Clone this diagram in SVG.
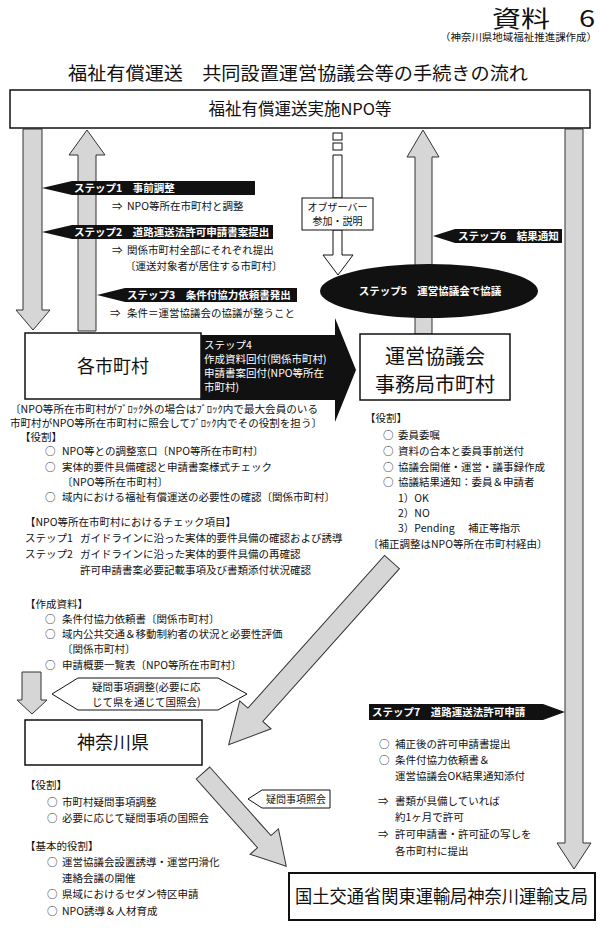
<svg xmlns="http://www.w3.org/2000/svg" width="600" height="928" viewBox="0 0 600 928">
<style>
text{font-family:"Noto Sans CJK JP","Noto Sans CJK SC",sans-serif;fill:#111}
.t{font-size:10.5px}
.lbl{font-size:10.5px;fill:#fff;font-weight:bold}
.lbn{font-size:10.5px;fill:#fff;font-weight:normal}
.box{fill:#fff;stroke:#111;stroke-width:1.5}
.gray{fill:#d6d6d6;stroke:#333;stroke-width:1}
.wht{fill:#fff;stroke:#111;stroke-width:1}
.blk{fill:#111;stroke:none}
.big{font-size:18px}
.mid{text-anchor:middle}
</style>
<rect width="600" height="928" fill="#fff"/>

<g id="header">
<text x="492" y="27" font-size="23" textLength="103" lengthAdjust="spacingAndGlyphs">資料　6</text>
<text x="440" y="41" font-size="10" textLength="157" lengthAdjust="spacingAndGlyphs">（神奈川県地域福祉推進課作成）</text>
<text x="68" y="80" font-size="18.5" textLength="460" lengthAdjust="spacingAndGlyphs">福祉有償運送　共同設置運営協議会等の手続きの流れ</text>
</g>

<g id="connectors">
<polygon class="gray" points="23,129 42,129 42,310 50,310 33,330 16,310 23,310"/>
<polygon class="gray" points="87,130 105,155 96,155 96,331 78,331 78,155 69,155"/>
<polygon class="gray" points="423,130 439,157 432,157 432,334 415,334 415,157 407,157"/>
<polygon class="gray" points="565,129 583,129 583,843 591,843 574,869 557,843 565,843"/>
<g id="observer-arrow">
<rect class="wht" x="333" y="133" width="9" height="7"/>
<rect class="wht" x="333" y="143" width="9" height="7"/>
<polygon class="wht" points="333,155 342,155 342,198 333,198"/>
<polygon class="wht" points="333,230 342,230 342,255 353,255 338,275 323,255 333,255"/>
</g>
<polygon class="blk" points="200,335 335,335 335,318 356,370 335,422 335,400 200,400"/>
<polygon class="gray" points="22,672 41,672 41,700 47,700 32,714 17,700 22,700"/>
<polygon class="gray" transform="translate(392,562) rotate(131.8)" points="0,-10 205,-10 205,-21 245,0 205,21 205,10 0,10"/>
<polygon class="gray" transform="translate(203,773) rotate(48.25)" points="0,-9 92,-9 92,-19 125,0 92,19 92,9 0,9"/>
</g>

<g id="npo">
<rect class="box" x="10" y="90" width="580" height="38"/>
<text x="300" y="115" font-size="16.5" class="mid">福祉有償運送実施NPO等</text>
</g>

<g id="step1">
<polygon class="blk" points="42,188 72,181 255,181 255,195 72,195"/>
<text class="lbl" x="74" y="192">ステップ1　事前調整</text>
<text class="t" x="112" y="210">⇒</text><text class="t" x="127" y="210">NPO等所在市町村と調整</text>
</g>
<g id="step2">
<polygon class="blk" points="42,232 72,225 273,225 273,239 72,239"/>
<text class="lbl" x="74" y="236">ステップ2　道路運送法許可申請書案提出</text>
<text class="t" x="112" y="254">⇒</text><text class="t" x="127" y="254">関係市町村全部にそれぞれ提出</text>
<text class="t" x="125" y="270">〔運送対象者が居住する市町村〕</text>
</g>
<g id="step3">
<polygon class="blk" points="97,295 125,288 297,288 297,302 125,302"/>
<text class="lbl" x="127" y="299">ステップ3　条件付協力依頼書発出</text>
<text class="t" x="110" y="317">⇒</text><text class="t" x="127" y="317">条件＝運営協議会の協議が整うこと</text>
</g>

<g id="observer">
<rect class="wht" x="302" y="198" width="71" height="32"/>
<text class="mid" x="337.5" y="211" font-size="10">オブザーバー</text>
<text class="mid" x="337.5" y="225" font-size="10">参加・説明</text>
</g>

<g id="step6">
<polygon class="blk" points="433,236 455,229 562,229 562,243 455,243"/>
<text class="lbl" x="458" y="240">ステップ6　結果通知</text>
</g>

<g id="step5">
<ellipse cx="429" cy="291" rx="109" ry="27" fill="#111"/>
<text class="lbl mid" x="430" y="295">ステップ5　運営協議会で協議</text>
</g>

<g id="municipalities">
<rect class="box" x="25" y="333" width="176" height="66"/>
<text class="big mid" x="113" y="373">各市町村</text>
</g>

<g id="step4">
<text class="lbn" x="204" y="349">ステップ4</text>
<text class="lbn" x="204" y="363">作成資料回付(関係市町村)</text>
<text class="lbn" x="204" y="377">申請書案回付(NPO等所在</text>
<text class="lbn" x="204" y="391">市町村)</text>
</g>

<g id="council">
<rect class="box" x="360" y="334" width="150" height="66"/>
<text class="mid" x="435" y="364" font-size="20">運営協議会</text>
<text class="mid" x="435" y="392" font-size="20">事務局市町村</text>
</g>

<g id="municipal-notes">
<text class="t" x="10" y="413" textLength="308" lengthAdjust="spacingAndGlyphs">〔NPO等所在市町村がﾌﾞﾛｯｸ外の場合はﾌﾞﾛｯｸ内で最大会員のいる</text>
<text class="t" x="10" y="427" textLength="312" lengthAdjust="spacingAndGlyphs">市町村がNPO等所在市町村に照会してﾌﾞﾛｯｸ内でその役割を担う〕</text>
<text class="t" x="20" y="441">【役割】</text>
<text class="t" x="45" y="455">○</text><text class="t" x="62" y="455">NPO等との調整窓口〔NPO等所在市町村〕</text>
<text class="t" x="45" y="471">○</text><text class="t" x="62" y="471">実体的要件具備確認と申請書案様式チェック</text>
<text class="t" x="62" y="486">〔NPO等所在市町村〕</text>
<text class="t" x="45" y="501">○</text><text class="t" x="62" y="501">域内における福祉有償運送の必要性の確認〔関係市町村〕</text>
<text class="t" x="25" y="526">【NPO等所在市町村におけるチェック項目】</text>
<text class="t" x="25" y="542">ステップ1</text><text class="t" x="80" y="542">ガイドラインに沿った実体的要件具備の確認および誘導</text>
<text class="t" x="25" y="558">ステップ2</text><text class="t" x="80" y="558">ガイドラインに沿った実体的要件具備の再確認</text>
<text class="t" x="80" y="574">許可申請書案必要記載事項及び書類添付状況確認</text>
<text class="t" x="25" y="608">【作成資料】</text>
<text class="t" x="45" y="623">○</text><text class="t" x="62" y="623">条件付協力依頼書〔関係市町村〕</text>
<text class="t" x="45" y="638">○</text><text class="t" x="62" y="638">域内公共交通＆移動制約者の状況と必要性評価</text>
<text class="t" x="62" y="653">〔関係市町村〕</text>
<text class="t" x="45" y="669">○</text><text class="t" x="62" y="669">申請概要一覧表〔NPO等所在市町村〕</text>
</g>

<g id="council-notes">
<text class="t" x="365" y="422">【役割】</text>
<text class="t" x="383" y="439">○</text><text class="t" x="398" y="439">委員委嘱</text>
<text class="t" x="383" y="455">○</text><text class="t" x="398" y="455">資料の合本と委員事前送付</text>
<text class="t" x="383" y="471">○</text><text class="t" x="398" y="471">協議会開催・運営・議事録作成</text>
<text class="t" x="383" y="486">○</text><text class="t" x="398" y="486">協議結果通知：委員＆申請者</text>
<text class="t" x="398" y="502">1）OK</text>
<text class="t" x="398" y="517">2）NO</text>
<text class="t" x="398" y="532">3）Pending</text><text class="t" x="468" y="532">補正等指示</text>
<text class="t" x="368" y="548">〔補正調整はNPO等所在市町村経由〕</text>
</g>

<g id="inquiry-adjust">
<polygon class="wht" points="52,694 78,678 218,678 247,694 218,710 78,710"/>
<text class="t" x="92" y="691">疑問事項調整(必要に応</text>
<text class="t" x="92" y="706">じて県を通じて国照会)</text>
</g>

<g id="kanagawa">
<rect class="box" x="25" y="720" width="177" height="45"/>
<text class="big mid" x="113" y="749">神奈川県</text>
</g>

<g id="kanagawa-notes">
<text class="t" x="25" y="789">【役割】</text>
<text class="t" x="47" y="806">○</text><text class="t" x="62" y="806">市町村疑問事項調整</text>
<text class="t" x="47" y="822">○</text><text class="t" x="62" y="822">必要に応じて疑問事項の国照会</text>
<text class="t" x="25" y="850">【基本的役割】</text>
<text class="t" x="47" y="866">○</text><text class="t" x="62" y="866">運営協議会設置誘導・運営円滑化</text>
<text class="t" x="62" y="882">連絡会議の開催</text>
<text class="t" x="47" y="898">○</text><text class="t" x="62" y="898">県域におけるセダン特区申請</text>
<text class="t" x="47" y="915">○</text><text class="t" x="62" y="915">NPO誘導＆人材育成</text>
</g>

<g id="inquiry">
<polygon class="wht" points="248,799 262,790 330,790 330,808 262,808"/>
<text x="266" y="803" font-size="10">疑問事項照会</text>
</g>

<g id="step7">
<polygon class="blk" points="369,704 543,704 565,712 543,720 369,720"/>
<text class="lbl" x="372" y="716">ステップ7　道路運送法許可申請</text>
<text class="t" x="379" y="748">○</text><text class="t" x="395" y="748">補正後の許可申請書提出</text>
<text class="t" x="379" y="764">○</text><text class="t" x="395" y="764">条件付協力依頼書＆</text>
<text class="t" x="395" y="780">運営協議会OK結果通知添付</text>
<text class="t" x="378" y="805">⇒</text><text class="t" x="395" y="805">書類が具備していれば</text>
<text class="t" x="395" y="821">約1ヶ月で許可</text>
<text class="t" x="378" y="838">⇒</text><text class="t" x="395" y="838">許可申請書・許可証の写しを</text>
<text class="t" x="395" y="855">各市町村に提出</text>
</g>

<g id="mlit">
<rect x="289" y="873" width="306" height="47" fill="#fff" stroke="#111" stroke-width="2"/>
<text x="295" y="903" font-size="18" textLength="293" lengthAdjust="spacingAndGlyphs">国土交通省関東運輸局神奈川運輸支局</text>
</g>
</svg>
